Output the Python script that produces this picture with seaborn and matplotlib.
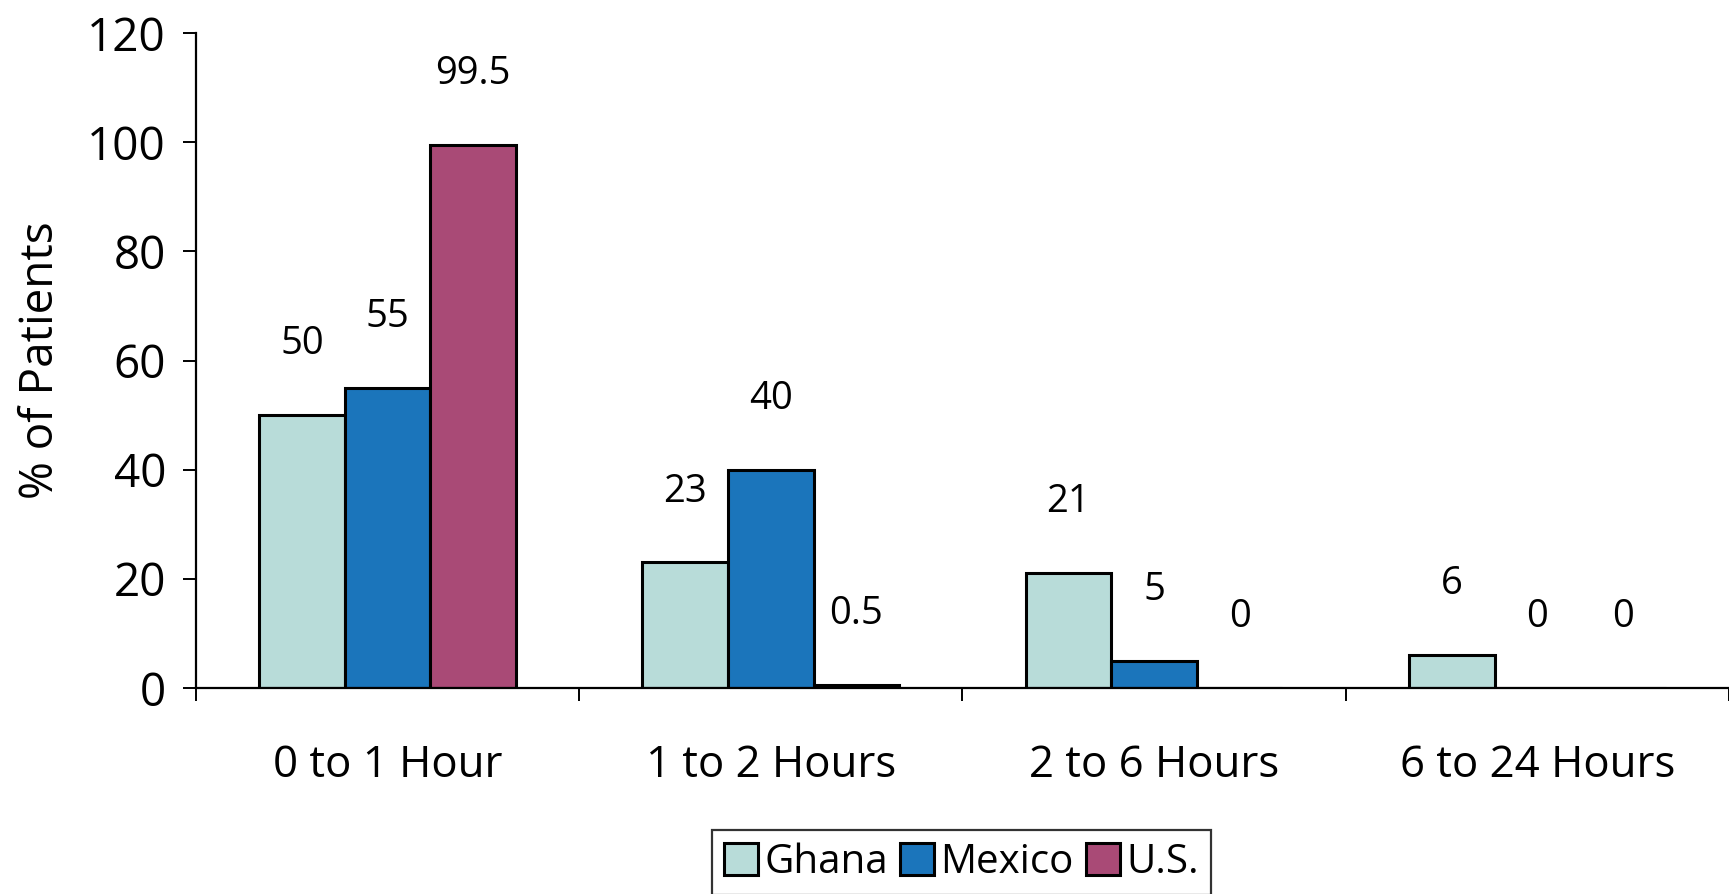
import matplotlib
matplotlib.use("Agg")
import matplotlib.pyplot as plt
import seaborn as sns
import pandas as pd
import numpy as np
from matplotlib.ticker import FixedLocator

# Data: share of patients by time interval and country
intervals = ["0 to 1 Hour", "1 to 2 Hours", "2 to 6 Hours", "6 to 24 Hours"]
countries = ["Ghana", "Mexico", "U.S."]
ghana = [50, 23, 21, 6]
mexico = [55, 40, 5, 0]
us = [99.5, 0.5, 0, 0]
value_labels = {
    "Ghana": ["50", "23", "21", "6"],
    "Mexico": ["55", "40", "5", "0"],
    "U.S.": ["99.5", "0.5", "0", "0"],
}

colors = ["#b8dcd9", "#1b75bb", "#a94a76"]

df = pd.DataFrame({
    "interval": intervals * 3,
    "country": [c for c in countries for _ in intervals],
    "pct": ghana + mexico + us,
})

sns.set_theme(style="white")
plt.rcParams["font.family"] = ["Open Sans", "DejaVu Sans"]
plt.rcParams.update({
    "text.color": "black",
    "axes.labelcolor": "black",
    "xtick.color": "black",
    "ytick.color": "black",
})

fig = plt.figure(figsize=(17.29, 8.94), dpi=100)
ax = fig.add_axes([0.1133, 0.2304, 0.8867, 0.7326])

sns.barplot(data=df, x="interval", y="pct", hue="country", order=intervals,
            hue_order=countries, palette=colors, saturation=1, width=0.67,
            edgecolor="black", linewidth=2.2, ax=ax, legend=True)

# Value labels above each bar
for container, country in zip(ax.containers, countries):
    for bar, txt in zip(container, value_labels[country]):
        x = bar.get_x() + bar.get_width() / 2
        ax.text(x, bar.get_height() + 13, txt, ha="center", va="center",
                fontsize=27.5, color="black")

ax.set_ylim(0, 120)
ax.set_xlim(-0.5, 3.5)
ax.set_yticks(np.arange(0, 121, 20))
ax.set_ylabel("% of Patients", fontsize=33, labelpad=17, color="black")
ax.set_xlabel("")

for side in ["top", "right"]:
    ax.spines[side].set_visible(False)
for side in ["left", "bottom"]:
    ax.spines[side].set_color("black")
    ax.spines[side].set_linewidth(1.6)

ax.tick_params(axis="y", which="major", direction="out", length=9.5,
               width=1.4, color="black", labelcolor="black", labelsize=33,
               pad=12, left=True)
ax.tick_params(axis="x", which="major", length=0, labelsize=31.5, pad=40,
               labelcolor="black")
ax.xaxis.set_minor_locator(FixedLocator([-0.5, 0.5, 1.5, 2.5, 3.5]))
ax.tick_params(axis="x", which="minor", direction="out", length=9.5,
               width=1.4, color="black", bottom=True)

handles, labels = ax.get_legend_handles_labels()
ax.get_legend().remove()
leg = fig.legend(handles, labels, loc="upper center",
                 bbox_to_anchor=(0.556, 0.0716), ncol=3, frameon=True,
                 fontsize=29, handlelength=0.85, handleheight=0.85,
                 handletextpad=0.15, columnspacing=0.3, borderpad=0.3,
                 fancybox=False, borderaxespad=0, labelcolor="black")
leg.get_frame().set_edgecolor("black")
leg.get_frame().set_linewidth(1.6)

fig.savefig("out.png", dpi=100, facecolor="white")
